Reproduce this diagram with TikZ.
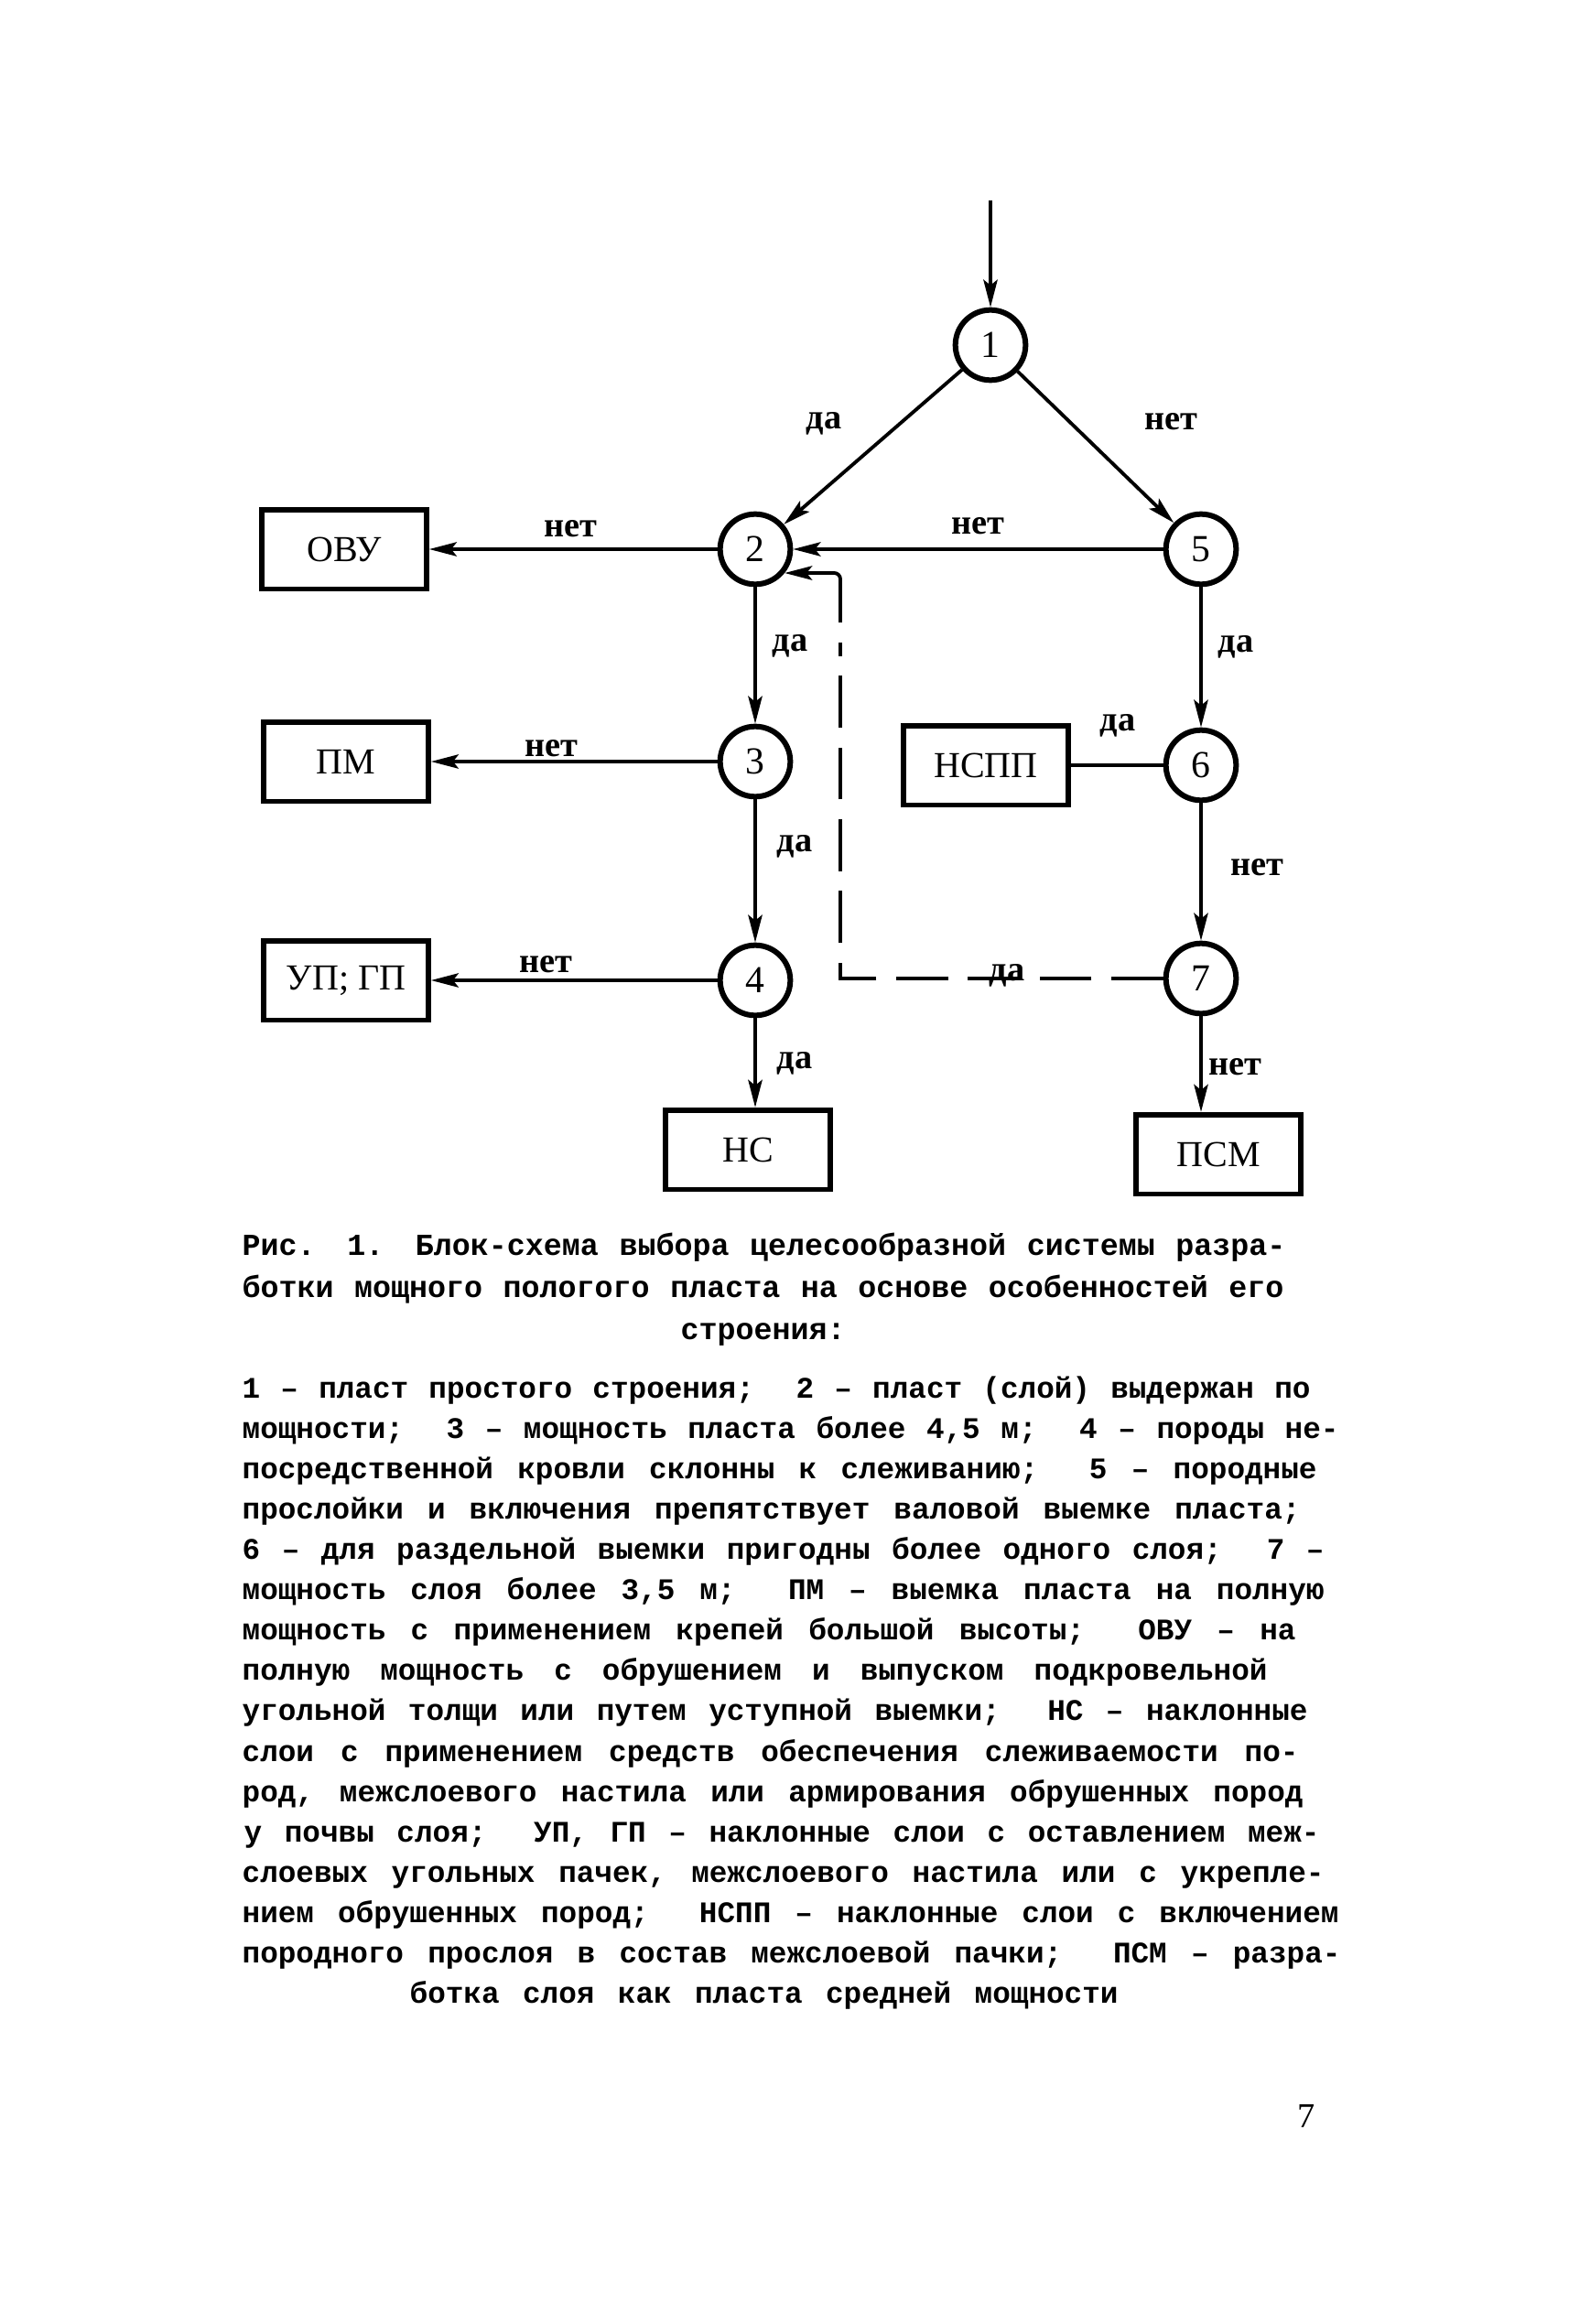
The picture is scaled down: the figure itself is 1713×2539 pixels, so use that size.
\documentclass[tikz,border=0pt]{standalone}
\usepackage{fontspec}
\setmainfont{Liberation Serif}
\newfontfamily\twfont{Liberation Mono}
\usetikzlibrary{arrows.meta}
\newcommand\tline[2]{\makebox[#1][s]{\spaceskip=0.6em plus 4em minus 0.15em\relax #2}}
\begin{document}
\begin{tikzpicture}[x=0.3pt,y=-0.3pt,
  circ/.style={circle,draw,line width=1.8pt,minimum size=23pt,inner sep=0pt,font=\fontsize{12.5}{14}\selectfont},
  boxnode/.style={rectangle,draw,line width=1.7pt,minimum width=54pt,minimum height=26pt,inner sep=0pt,font=\fontsize{12}{14}\selectfont},
  conn/.style={line width=1.15pt,-{Stealth[length=9pt,width=4.6pt,inset=1.8pt]}},
  plainline/.style={line width=1.15pt},
  lbl/.style={font=\bfseries\fontsize{11.5}{13}\selectfont,inner sep=0pt},
  txt/.style={anchor=base west,inner sep=0pt,font=\twfont\bfseries\fontsize{9.8}{12}\selectfont},
  captxt/.style={anchor=base west,inner sep=0pt,font=\twfont\bfseries\fontsize{10}{12}\selectfont},
]
\fill[white] (0,0) rectangle (1713,2539);
\useasboundingbox (0,0) rectangle (1713,2539);

% decision circles
\node[circ] (c1) at (1082,377) {1};
\node[circ] (c2) at (825,600) {2};
\node[circ] (c5) at (1312,600) {5};
\node[circ] (c3) at (825,832) {3};
\node[circ] (c6) at (1312,836) {6};
\node[circ] (c4) at (825,1071) {4};
\node[circ] (c7) at (1312,1069) {7};

% result boxes
\node[boxnode] (ovu) at (376,600) {ОВУ};
\node[boxnode] (pm) at (378,832) {ПМ};
\node[boxnode] (upgp) at (378,1071) {УП; ГП};
\node[boxnode] (ns) at (817,1256) {НС};
\node[boxnode] (nspp) at (1077,836) {НСПП};
\node[boxnode] (psm) at (1331,1261) {ПСМ};

% connectors
\coordinate (start) at (1082,219);
\draw[conn] (start) -- (c1);
\draw[conn] (c1) -- (c2);
\draw[conn] (c1) -- (c5);
\draw[conn] (c5) -- (c2);
\draw[conn] (c2) -- (ovu);
\draw[conn] (c2) -- (c3);
\draw[conn] (c3) -- (pm);
\draw[conn] (c3) -- (c4);
\draw[conn] (c4) -- (upgp);
\draw[conn] (c4) -- (c4 |- ns.north);
\draw[conn] (c5) -- (c6);
\draw[plainline] (nspp) -- (c6);
\draw[conn] (c6) -- (c7);
\draw[conn] (c7) -- (c7 |- psm.north);

% dashed feedback 7 -> 2
\coordinate (dcorner) at (918,1069);
\coordinate (dend) at (918,702);
\coordinate (dsolid) at (918,680);
\draw[plainline,dash pattern=on 17pt off 6.5pt] (c7) -- (dcorner) -- (dend);
\draw[conn,rounded corners=2pt] (dsolid) -- (dsolid |- c2.-39) -- (c2.-39);

% branch labels
\node[lbl] (la12) at (900,463) {да};
\node[lbl] (la15) at (1279,461) {нет};
\node[lbl] (la2o) at (623,578) {нет};
\node[lbl] (la52) at (1068,575) {нет};
\node[lbl] (la23) at (863,706) {да};
\node[lbl] (la56) at (1350,707) {да};
\node[lbl] (la3p) at (602,818) {нет};
\node[lbl] (la6n) at (1221,793) {да};
\node[lbl] (la34) at (868,925) {да};
\node[lbl] (la67) at (1373,948) {нет};
\node[lbl] (la4u) at (596,1054) {нет};
\node[lbl,anchor=base] (la72) at (1100,1071) {да};
\node[lbl] (la4n) at (868,1162) {да};
\node[lbl] (la7p) at (1349,1166) {нет};

% caption
\node[captxt] (cap1) at (264,1371) {\tline{342pt}{Рис. 1. Блок-схема выбора целесообразной системы разра-}};
\node[captxt] (cap2) at (264,1417) {\tline{341.4pt}{ботки мощного пологого пласта на основе особенностей его}};
\node[captxt] (cap3) at (743,1463) {строения:};

% legend
\node[txt] (t1) at (264,1527) {\tline{350.1pt}{1 – пласт простого строения;~ 2 – пласт (слой) выдержан по}};
\node[txt] (t2) at (264,1571) {\tline{359.4pt}{мощности;~ 3 – мощность пласта более 4,5 м;~ 4 – породы не-}};
\node[txt] (t3) at (264,1615) {\tline{352.2pt}{посредственной кровли склонны к слеживанию;~ 5 – породные}};
\node[txt] (t4) at (264,1659) {\tline{346.8pt}{прослойки и включения препятствует валовой выемке пласта;}};
\node[txt] (t5) at (264,1703) {\tline{354.6pt}{6 – для раздельной выемки пригодны более одного слоя;~ 7 –}};
\node[txt] (t6) at (264,1747) {\tline{354.6pt}{мощность слоя более 3,5 м;~ ПМ – выемка пласта на полную}};
\node[txt] (t7) at (264,1791) {\tline{345.3pt}{мощность с применением крепей большой высоты;~ ОВУ – на}};
\node[txt] (t8) at (264,1835) {\tline{336pt}{полную мощность с обрушением и выпуском подкровельной}};
\node[txt] (t9) at (264,1879) {\tline{349.2pt}{угольной толщи или путем уступной выемки;~ НС – наклонные}};
\node[txt] (t10) at (264,1924) {\tline{346.2pt}{слои с применением средств обеспечения слеживаемости по-}};
\node[txt] (t11) at (264,1968) {\tline{347.7pt}{род, межслоевого настила или армирования обрушенных пород}};
\node[txt] (t12) at (266,2012) {\tline{352.5pt}{у почвы слоя;~ УП, ГП – наклонные слои с оставлением меж-}};
\node[txt] (t13) at (264,2056) {\tline{354.6pt}{слоевых угольных пачек, межслоевого настила или с укрепле-}};
\node[txt] (t14) at (264,2100) {\tline{359.4pt}{нием обрушенных пород;~ НСПП – наклонные слои с включением}};
\node[txt] (t15) at (264,2144) {\tline{360pt}{породного прослоя в состав межслоевой пачки;~ ПСМ – разра-}};
\node[txt] (t16) at (447,2188) {\tline{232.2pt}{ботка слоя как пласта средней мощности}};

% page number
\node[font=\fontsize{11.5}{13}\selectfont,inner sep=0pt] (pgnum) at (1427,2312) {7};
\end{tikzpicture}
\end{document}
